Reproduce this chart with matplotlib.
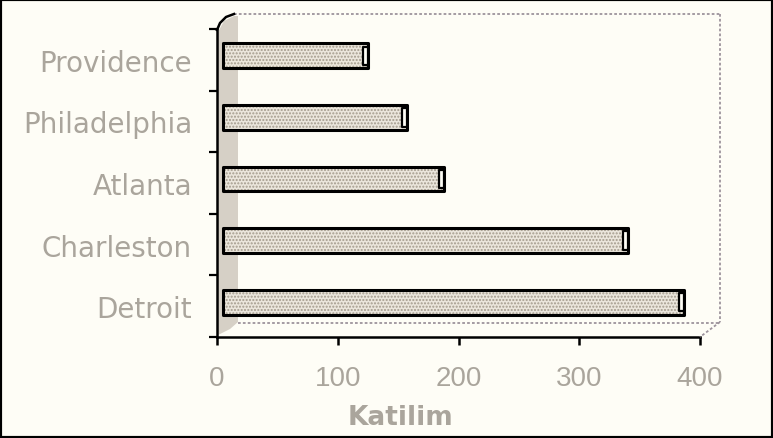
import numpy as np
import matplotlib.pyplot as plt
import matplotlib.transforms as mtransforms
from matplotlib.lines import Line2D
from matplotlib.patches import Polygon, Rectangle

# data
cities = ['Detroit', 'Charleston', 'Atlanta', 'Philadelphia', 'Providence']
katilim = [382, 335, 183, 152, 120]
xticks = [0, 100, 200, 300, 400]
xlabel = 'Katilim'

W, H = 773, 439
bg = '#fefdf6'
txt = '#aaa59c'

def P(x, y):
    # pixel -> figure fraction
    return x / W, 1 - y / H

fig = plt.figure(figsize=(W / 100, H / 100), dpi=100, facecolor=bg)
ax = fig.add_axes([217 / W, 1 - 338 / H, 483 / W, 308 / H])
ax.set_facecolor('none')
ax.set_xlim(0, 400)
ax.set_ylim(-0.5, 4.5)

# bars sit slightly back (3d depth)
shift = ax.transData + mtransforms.ScaledTranslation(6 / 100, 4 / 100, fig.dpi_scale_trans)
y = np.arange(len(cities))
fill = ax.barh(y, katilim, height=0.40, color='#ebe6dc', edgecolor='#a39a8c',
               hatch='.....', linewidth=0, transform=shift, zorder=2)
outline = ax.barh(y, katilim, height=0.40, color='none', edgecolor='black',
                  linewidth=2.2, transform=shift, zorder=3)
caps = ax.barh(y, [4] * len(y), left=np.array(katilim) - 4, height=0.30,
               color=bg, edgecolor='black', linewidth=1.6, transform=shift, zorder=4)
for b in list(outline) + list(caps):
    b.set_joinstyle('round')

# axes styling
for s in ['top', 'right']:
    ax.spines[s].set_visible(False)
for s in ['left', 'bottom']:
    ax.spines[s].set_linewidth(1.8)
    ax.spines[s].set_color('black')

ax.set_yticks(y)
ax.set_yticklabels(cities, fontsize=20, color=txt, family='DejaVu Sans')
ax.set_yticks(np.arange(-0.5, len(cities)), minor=True)
ax.tick_params(axis='y', which='major', length=0, pad=18)
ax.tick_params(axis='y', which='minor', length=5.5, width=1.6, direction='out')
ax.set_xticks(xticks)
ax.set_xticklabels([str(t) for t in xticks], fontsize=20, color=txt,
                   family='Liberation Sans')
ax.tick_params(axis='x', length=6, width=1.8, direction='out', pad=14)

# back wall / floor decoration
fig.patches.append(Polygon([P(218, 33), P(224, 22), P(234, 17), P(238, 17),
                            P(238, 323), P(230, 330), P(218, 336)],
                           closed=True, transform=fig.transFigure,
                           facecolor='#d6d0c6', edgecolor='none', zorder=-1))
dot = dict(transform=fig.transFigure, color='#9d939c', lw=1.3, ls=(0, (1.5, 1.2)))
for xs, ys in [([234, 720], [15, 15]), ([720, 720], [15, 323]),
               ([238, 720], [324, 324]), ([720, 700], [323, 338])]:
    fx, fy = zip(*[P(a, b) for a, b in zip(xs, ys)])
    fig.lines.append(Line2D(fx, fy, **dot))
cx, cy = zip(*[P(217, 31), P(220, 24), P(226, 18), P(234, 15)])
fig.lines.append(Line2D(cx, cy, transform=fig.transFigure, color='black', lw=1.8))

fig.text(*P(401, 418), xlabel, ha='center', va='center', fontsize=19,
         fontweight='bold', color=txt, family='DejaVu Sans')

# outer frame
fig.patches.append(Rectangle((0, 0), 1, 1, transform=fig.transFigure, fill=False,
                             edgecolor='black', linewidth=3))

fig.savefig('out.png', dpi=100, facecolor=bg)
